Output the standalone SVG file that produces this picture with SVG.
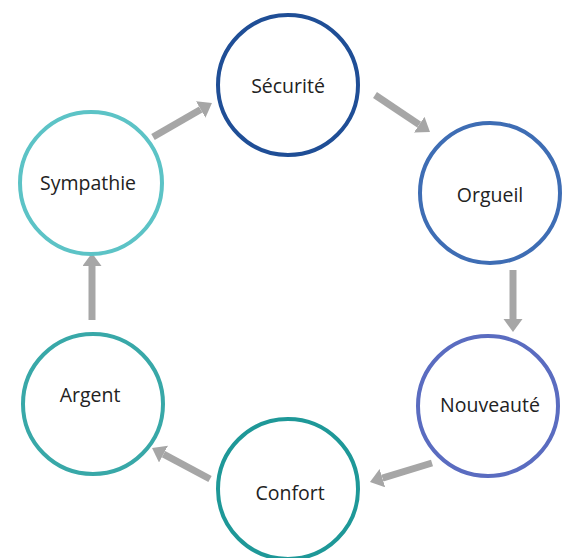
<svg xmlns="http://www.w3.org/2000/svg" width="568" height="558" viewBox="0 0 568 558">
  <style>
    .ring { fill: #ffffff; stroke-width: 4; }
    .label { font-family: "Open Sans", "Noto Sans", sans-serif; font-size: 19.5px; fill: #222222; text-anchor: middle; }
    .flow { stroke: #a6a6a6; stroke-width: 7; fill: none; marker-end: url(#head); }
  </style>
  <defs>
    <marker id="head" markerUnits="userSpaceOnUse" markerWidth="14" markerHeight="20" refX="0" refY="9.5" orient="auto">
      <path d="M0,0 L13,9.5 L0,19 Z" fill="#a6a6a6"/>
    </marker>
  </defs>
  <rect width="568" height="558" fill="#ffffff"/>

  <g id="connectors">
    <line class="flow" x1="153" y1="137" x2="200.7" y2="109.5"/>
    <line class="flow" x1="375" y1="95" x2="419.2" y2="124.7"/>
    <line class="flow" x1="513" y1="270" x2="513" y2="319"/>
    <line class="flow" x1="432" y1="463" x2="382.4" y2="478.2"/>
    <line class="flow" x1="210" y1="479" x2="163.5" y2="454.1"/>
    <line class="flow" x1="92" y1="320" x2="92" y2="266"/>
  </g>

  <g id="securite">
    <circle class="ring" cx="288" cy="85" r="70" stroke="#1f4e96"/>
    <text class="label" x="288" y="93">Sécurité</text>
  </g>
  <g id="orgueil">
    <circle class="ring" cx="490" cy="193" r="70" stroke="#3e6db4"/>
    <text class="label" x="490" y="202">Orgueil</text>
  </g>
  <g id="nouveaute">
    <circle class="ring" cx="488" cy="406" r="70" stroke="#5a6cc0"/>
    <text class="label" x="490" y="412">Nouveauté</text>
  </g>
  <g id="confort">
    <circle class="ring" cx="288" cy="489" r="70" stroke="#1e9898"/>
    <text class="label" x="290" y="500">Confort</text>
  </g>
  <g id="argent">
    <circle class="ring" cx="93" cy="404" r="70" stroke="#38a8a8"/>
    <text class="label" x="90" y="402">Argent</text>
  </g>
  <g id="sympathie">
    <circle class="ring" cx="91" cy="183" r="71" stroke="#5cc3c6"/>
    <text class="label" x="88" y="190">Sympathie</text>
  </g>
</svg>
